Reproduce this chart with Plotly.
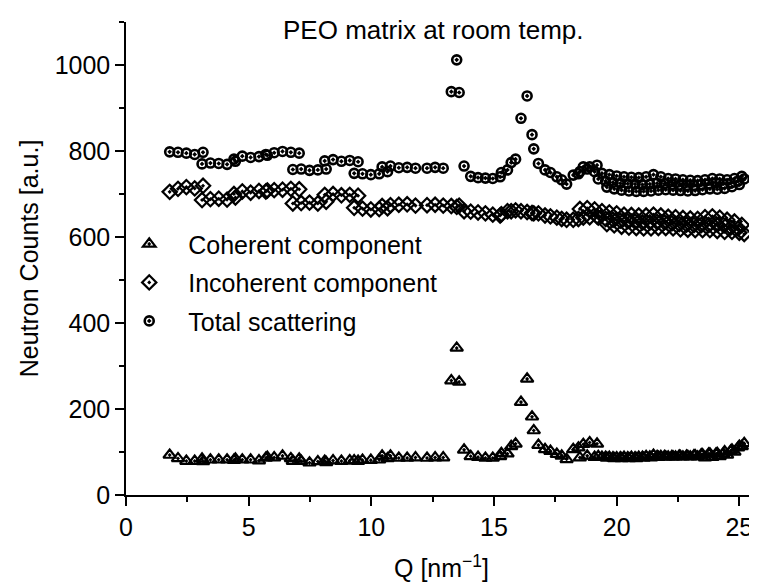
import plotly.graph_objects as go

# Q values [nm^-1] (segments of detector groups, overlapping at high Q)
q = [
    1.78, 2.12, 2.46, 2.80, 3.14,
    3.10, 3.44, 3.78, 4.12, 4.46,
    4.40, 4.74, 5.08, 5.42, 5.76,
    5.70, 6.04, 6.38, 6.72, 7.06,
    6.80, 7.14, 7.48, 7.82, 8.16,
    8.10, 8.44, 8.78, 9.12, 9.46,
    9.30, 9.64, 9.98, 10.32, 10.66,
    10.44, 10.78, 11.12, 11.46, 11.80,
    12.27, 12.60, 12.93, 13.26, 13.58,
    13.48, 13.78, 14.05, 14.35, 14.65, 14.95, 15.25,
    15.30, 15.55, 15.70, 15.88, 16.10, 16.35, 16.55, 16.62,
    16.81, 17.08, 17.30, 17.56, 17.76, 17.96,
    18.23, 18.44, 18.64, 18.90, 19.20,
    18.50, 18.80, 19.10, 19.40, 19.70, 20.00, 20.30, 20.60, 20.90, 21.20, 21.50, 21.80,
    22.10, 22.40, 22.70, 23.00, 23.30, 23.60, 23.90, 24.20, 24.50, 24.80, 25.10,
    19.25, 19.55, 19.85, 20.15, 20.45, 20.75, 21.05, 21.35, 21.65, 21.95, 22.25,
    22.55, 22.85, 23.15, 23.45, 23.75, 24.05, 24.35, 24.65, 24.95, 25.20,
    19.60, 19.90, 20.20, 20.50, 20.80, 21.10, 21.40, 21.70, 22.00, 22.30,
    22.60, 22.90, 23.20, 23.50, 23.80, 24.10, 24.40, 24.70, 25.00,
]

total = [
    798, 797, 795, 792, 797,
    770, 772, 771, 769, 776,
    781, 788, 785, 787, 790,
    792, 796, 799, 797, 795,
    757, 758, 755, 756, 758,
    777, 780, 776, 778, 775,
    748, 747, 745, 747, 752,
    763, 765, 761, 762, 760,
    760, 762, 760, 938, 936,
    1012, 765, 741, 738, 737, 736, 740,
    750, 756, 773, 781, 876, 928, 838, 805,
    771, 756, 750, 740, 733, 723,
    744, 747, 763, 763, 767,
    752, 758, 752, 748, 745, 742, 740, 739, 738, 740, 745, 740,
    736, 735, 733, 732, 731, 733, 736, 735, 733, 736, 741,
    735, 730, 727, 725, 724, 723, 722, 723, 725, 724, 722,
    721, 720, 720, 722, 724, 726, 724, 725, 730, 735,
    716, 712, 709, 707, 706, 706, 707, 709, 710, 709,
    708, 707, 708, 710, 712, 711, 713, 717, 722,
]

incoherent = [
    705, 712, 716, 713, 719,
    686, 688, 689, 687, 692,
    700, 706, 703, 707, 708,
    706, 709, 710, 712, 711,
    678, 679, 680, 678, 682,
    698, 700, 697, 698, 696,
    668, 666, 664, 665, 667,
    672, 674, 675, 676, 673,
    674, 675, 673, 672, 673,
    670, 660, 659, 657, 655, 652, 650,
    653, 660, 660, 662, 660, 658, 656, 655,
    655, 650, 648, 645, 642, 640,
    640, 642, 645, 646, 648,
    665, 667, 664, 660, 657, 655, 652, 651, 650, 650, 652, 650,
    647, 646, 644, 643, 642, 646, 648, 645, 640, 636, 628,
    645, 642, 640, 638, 637, 636, 634, 634, 635, 634, 632,
    630, 629, 628, 628, 628, 630, 628, 622, 620, 607,
    630, 627, 624, 622, 621, 620, 620, 621, 621, 620,
    618, 617, 616, 616, 616, 614, 612, 612, 610,
]

coherent = [
    93, 85, 79, 79, 78,
    84, 82, 82, 82, 84,
    81, 82, 82, 80, 88,
    86, 87, 91, 85, 84,
    79, 79, 75, 78, 76,
    79, 80, 79, 80, 79,
    80, 81, 81, 82, 85,
    91, 91, 86, 86, 87,
    86, 87, 87, 266, 263,
    342, 105, 90, 88, 86, 86, 90,
    97, 96, 113, 119, 216, 270, 182, 150,
    116, 106, 102, 95, 91, 83,
    106, 110, 118, 122, 119,
    87, 91, 88, 88, 88, 87, 88, 88, 88, 90, 93, 90,
    89, 89, 89, 89, 89, 87, 88, 90, 93, 100, 113,
    90, 88, 87, 87, 87, 87, 88, 89, 90, 90, 90,
    91, 91, 92, 94, 96, 96, 96, 103, 110, 120,
    86, 85, 85, 85, 85, 86, 87, 88, 89, 89,
    90, 90, 92, 94, 96, 97, 101, 105, 114,
]

series_names = ["Coherent component", "Incoherent component", "Total scattering"]
title_text = "PEO matrix at room temp."

FONT = "Liberation Sans, Arial, sans-serif"

fig = go.Figure()
specs = [
    (series_names[0], coherent, "triangle-up-open-dot", 11, 2.2),
    (series_names[1], incoherent, "diamond-open-dot", 11, 2.2),
    (series_names[2], total, "circle-open-dot", 9, 2.6),
]
for i, (name, vals, sym, sz, lw) in enumerate(specs):
    fig.add_trace(go.Scatter(
        x=q, y=vals, mode="markers", name=name, legendgroup=f"g{i}",
        marker=dict(symbol=sym, size=sz, color="black",
                    line=dict(color="black", width=lw)),
    ))

fig.add_annotation(
    text=title_text, xref="paper", yref="paper",
    x=0.487, y=0.983, xanchor="center", yanchor="middle",
    showarrow=False, font=dict(family=FONT, size=26, color="black"),
)

axis_common = dict(
    showline=True, linecolor="black", linewidth=1.5,
    ticks="outside", ticklen=9, tickwidth=1.5, tickcolor="black",
    showgrid=False, zeroline=False, mirror=False, automargin=False,
    tickfont=dict(family=FONT, size=25, color="black"),
)

# The page body has an 8 px default margin, so the figure is 8 px smaller
# than the window and margins are reduced accordingly.
fig.update_layout(
    template="none",
    width=749, height=580,
    margin=dict(l=118, r=0, t=14, b=93),
    paper_bgcolor="white", plot_bgcolor="white",
    font=dict(family=FONT, color="black"),
    showlegend=True,
    legend=dict(
        x=-0.025, y=0.579, xanchor="left", yanchor="top",
        font=dict(family=FONT, size=25, color="black"),
        bgcolor="rgba(0,0,0,0)", itemwidth=68, tracegroupgap=3,
    ),
    xaxis=dict(
        range=[0, 25.72], dtick=5, tick0=0,
        title=dict(text="Q [nm<sup>−1</sup>]", font=dict(family=FONT, size=25), standoff=20),
        minor=dict(dtick=2.5, ticks="outside", ticklen=5, tickwidth=1.5, tickcolor="black"),
        **axis_common,
    ),
    yaxis=dict(
        range=[0, 1100], dtick=200, tick0=0,
        title=dict(text="Neutron Counts [a.u.]", font=dict(family=FONT, size=25), standoff=9),
        minor=dict(dtick=100, ticks="outside", ticklen=5, tickwidth=1.5, tickcolor="black"),
        **axis_common,
    ),
)

fig.write_html("out.html")
